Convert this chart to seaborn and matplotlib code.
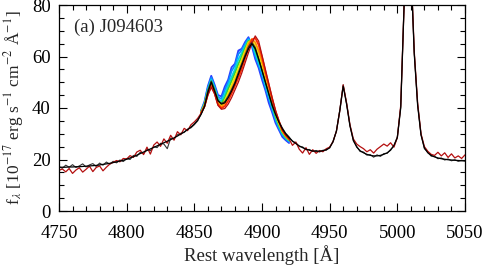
import numpy as np
import matplotlib
matplotlib.use("Agg")
import matplotlib.pyplot as plt
import seaborn as sns
from matplotlib.ticker import MultipleLocator

# ---------------- data ----------------
wave = np.arange(4750.0, 5050.0 + 0.01, 2.5)  # sampling grid (Angstrom)

model_flux = [
    17.0, 17.0, 17.0, 17.1, 17.1, 17.2, 17.2, 17.3, 17.4, 17.5,   # 4750-4772.5
    17.6, 17.7, 17.9, 18.1, 18.3, 18.5, 18.8, 19.1, 19.4, 19.7,   # 4775-4797.5
    20.1, 20.6, 21.1, 21.7, 22.3, 22.9, 23.5, 24.1, 24.7, 25.3,   # 4800-4822.5
    25.9, 26.5, 27.1, 27.7, 28.4, 29.1, 29.9, 30.7, 31.6, 32.6,   # 4825-4847.5
    33.8, 35.3, 37.5, 40.5, 46.0, 50.0, 46.5, 42.8, 41.5, 42.0,   # 4850-4872.5
    44.0, 46.5, 49.5, 53.0, 56.5, 60.0, 63.0, 65.0, 63.0, 59.0,   # 4875-4897.5
    54.5, 50.0, 45.5, 41.0, 37.5, 34.5, 32.0, 30.0, 28.5, 27.2,   # 4900-4922.5
    26.2, 25.3, 24.6, 24.0, 23.6, 23.3, 23.2, 23.2, 23.4, 23.8,   # 4925-4947.5
    24.5, 27.0, 31.0, 39.0, 48.5, 41.5, 33.0, 27.5, 24.8, 23.4,   # 4950-4972.5
    22.6, 22.0, 21.6, 21.4, 21.4, 21.6, 22.0, 22.6, 23.6, 25.5,   # 4975-4997.5
    28.5, 40.0, 80.0, 135.0, 95.0, 61.0, 41.0, 29.5, 24.5, 22.6,  # 5000-5022.5
    21.6, 21.0, 20.6, 20.3, 20.1, 19.9, 19.8, 19.7, 19.6, 19.5,   # 5025-5047.5
    19.5,                                                         # 5050
]

obs_dark = [
    17.2, 16.6, 17.8, 17.0, 18.0, 16.9, 17.5, 18.3, 17.1, 17.9,
    18.4, 17.3, 18.6, 17.8, 19.0, 18.2, 19.3, 18.7, 19.8, 19.2,
    20.4, 20.0, 21.6, 21.2, 22.8, 22.3, 23.9, 23.4, 25.0, 24.6,
    26.3, 26.0, 24.2, 28.3, 28.0, 29.6, 30.2, 30.5, 31.8, 32.3,
    33.5, 35.0, 37.8, 41.0, 46.8, 50.5, 47.0, 43.0, 41.8, 42.5,
    44.6, 47.2, 50.0, 53.8, 57.2, 60.6, 63.8, 65.6, 63.5, 59.3,
    54.8, 50.2, 45.7, 41.3, 37.6, 34.8, 32.3, 30.2, 28.8, 27.0,
    26.5, 25.0, 24.9, 23.8, 23.9, 23.1, 23.5, 22.9, 23.6, 23.6,
    24.8, 26.8, 31.2, 39.3, 49.0, 41.8, 33.3, 27.2, 25.1, 23.1,
    22.9, 21.7, 21.9, 20.9, 21.8, 21.2, 22.3, 22.4, 23.9, 25.2,
    28.8, 40.4, 80.5, 135.0, 95.5, 61.5, 41.4, 29.8, 24.2, 22.9,
    21.3, 21.3, 20.3, 20.6, 19.8, 20.2, 19.5, 19.9, 19.3, 19.7,
    19.4,
]

obs_red = [
    15.8, 16.3, 15.2, 16.5, 14.6, 15.9, 16.8, 15.1, 16.2, 17.4,
    15.3, 16.9, 17.5, 15.6, 17.0, 18.2, 18.9, 19.6, 19.1, 20.4,
    20.2, 21.5, 20.8, 22.9, 23.6, 21.9, 24.8, 22.1, 25.6, 26.8,
    25.1, 28.0, 26.3, 29.4, 27.5, 30.8, 29.6, 32.1, 31.2, 33.5,
    34.6, 36.0, 38.0, 40.5, 45.0, 48.0, 45.5, 41.0, 39.5, 39.8,
    41.5, 44.0, 47.0, 50.0, 53.5, 57.5, 61.5, 65.0, 68.0, 66.0,
    60.5, 55.0, 49.5, 44.0, 39.0, 35.0, 31.5, 29.5, 28.0, 25.5,
    26.8, 24.0, 22.5, 24.6, 22.0, 23.8, 22.4, 23.5, 23.0, 24.2,
    24.8, 27.0, 31.0, 39.0, 49.0, 42.0, 33.5, 28.0, 26.0, 25.0,
    24.2, 23.0, 23.8, 22.5, 24.0, 25.0, 26.0, 25.2, 26.5, 24.8,
    28.5, 41.0, 80.0, 135.0, 96.0, 62.0, 42.0, 30.0, 25.0, 23.2,
    22.0, 21.6, 22.8, 21.4, 22.6, 20.8, 22.2, 20.6, 21.4, 20.4,
    21.8,
]

# epochs in the broad-line region (4855 - 4920 A)
wave_hump = wave[(wave >= 4855) & (wave <= 4920)]
epoch_blue = [39.0, 42.5, 48.5, 52.5, 49.0, 45.0, 44.5, 48.3, 51.0, 55.8, 57.2, 62.3, 63.0,
              65.6, 67.5, 64.0, 59.0, 55.6, 51.0, 46.9, 42.0, 38.3, 34.2, 31.5, 28.8, 27.5, 26.4]
epoch_dblue = [38.8, 42.0, 47.8, 51.8, 48.3, 44.2, 43.6, 46.9, 50.0, 54.3, 56.5, 60.9, 62.5,
               64.9, 67.0, 64.8, 60.2, 56.6, 52.8, 48.0, 43.6, 39.4, 35.3, 32.2, 29.6, 28.0, 26.9]
epoch_cyan = [38.6, 41.7, 47.2, 51.0, 47.7, 43.5, 42.7, 45.3, 48.8, 52.0, 55.0, 58.9, 61.3,
              64.0, 66.5, 65.3, 61.4, 57.5, 54.0, 49.0, 44.8, 40.3, 36.1, 32.8, 30.1, 28.4, 27.2]
epoch_green = [38.5, 41.4, 46.6, 50.3, 47.0, 42.8, 41.8, 44.0, 47.3, 50.4, 53.6, 57.0, 60.0,
               63.2, 66.0, 65.8, 62.6, 58.8, 55.3, 50.3, 45.9, 41.3, 36.9, 33.4, 30.5, 28.7, 27.5]
epoch_yellow = [38.3, 41.1, 46.0, 49.6, 46.5, 42.2, 41.0, 42.8, 45.8, 48.8, 52.0, 55.2, 58.6,
                62.2, 65.5, 66.3, 64.0, 60.5, 56.8, 51.7, 47.0, 42.2, 37.7, 34.0, 30.9, 29.0, 27.7]
epoch_orange = [38.2, 40.8, 45.6, 49.0, 46.0, 41.7, 40.4, 41.8, 44.4, 47.3, 50.4, 53.6, 57.0,
                61.0, 64.8, 66.8, 65.5, 62.3, 58.2, 53.0, 48.0, 43.0, 38.3, 34.5, 31.2, 29.3, 27.9]
epoch_red = [38.1, 40.6, 45.3, 48.5, 45.7, 41.3, 39.9, 40.7, 42.8, 45.6, 48.6, 51.7, 55.2,
             59.3, 63.3, 66.5, 67.2, 64.5, 59.8, 54.2, 49.0, 43.7, 38.8, 34.9, 31.4, 29.4, 28.0]

epochs = [epoch_blue, epoch_dblue, epoch_cyan, epoch_green, epoch_yellow, epoch_orange, epoch_red]
epoch_colors = ["#2a3cff", "#0a8cff", "#00d2e6", "#2fd23c", "#f0e600", "#ff9600", "#ff2a00"]

# ---------------- plot ----------------
sns.set_theme(style="ticks")
plt.rcParams["font.family"] = ["Liberation Serif", "DejaVu Serif"]
plt.rcParams["mathtext.fontset"] = "stix"

fig = plt.figure(figsize=(4.85, 2.67), dpi=100)
ax = fig.add_axes([59 / 485, 56 / 267, 406 / 485, 206 / 267])

for flux, col in zip(epochs, epoch_colors):
    sns.lineplot(x=wave_hump, y=flux, color=col, lw=1.3, ax=ax, sort=False, estimator=None)

sns.lineplot(x=wave, y=obs_dark, color="#333333", lw=0.8, ax=ax, sort=False, estimator=None)
sns.lineplot(x=wave, y=obs_red, color="#b40f0f", lw=0.9, ax=ax, sort=False, estimator=None)
sns.lineplot(x=wave, y=model_flux, color="black", lw=0.9, ax=ax, sort=False, estimator=None)

ax.set_xlim(4750, 5050)
ax.set_ylim(0, 80)
ax.xaxis.set_major_locator(MultipleLocator(50))
ax.xaxis.set_minor_locator(MultipleLocator(10))
ax.yaxis.set_major_locator(MultipleLocator(20))
ax.yaxis.set_minor_locator(MultipleLocator(5))
ax.tick_params(which="both", direction="in", top=True, right=True, width=0.8, colors="black",
               labelsize=13.5)
ax.tick_params(axis="x", which="major", pad=10)
ax.tick_params(axis="y", which="major", pad=6)
ax.tick_params(which="major", length=6)
ax.tick_params(which="minor", length=3.5)
for s in ax.spines.values():
    s.set_linewidth(0.9)
    s.set_color("black")

ax.set_xlabel("Rest wavelength [Å]", fontsize=13.5, labelpad=2)
ax.set_ylabel(r"f$_\lambda$ [10$^{-17}$ erg s$^{-1}$ cm$^{-2}$ Å$^{-1}$]", fontsize=12.5, labelpad=4)
ax.text(0.037, 0.89, "(a) J094603", transform=ax.transAxes, fontsize=13.5, va="center", ha="left")

fig.savefig("out.png", dpi=100)
